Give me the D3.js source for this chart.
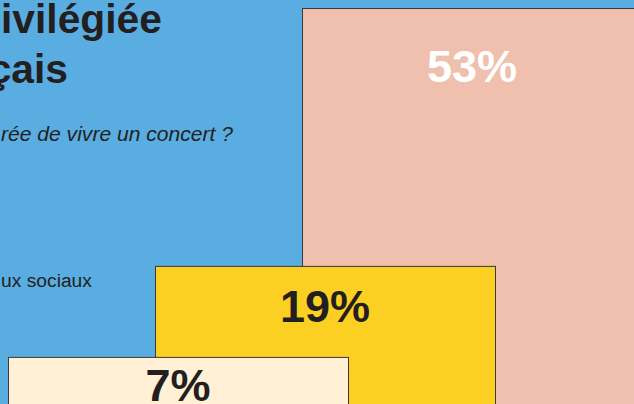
<!DOCTYPE html>
<html>
<head>
<meta charset="utf-8">
<script src="https://cdn.jsdelivr.net/npm/d3@7"></script>
<style>
  html, body { margin: 0; padding: 0; background: #5aade0; overflow: hidden; }
  svg { display: block; font-family: "Liberation Sans", Arial, sans-serif; }
</style>
</head>
<body>
<div id="chart"></div>
<script>
// Data
const categories = ["Réseaux sociaux", "Retransmission", "En salle"];
const values = [7, 19, 53];
const barColors = ["#fff0d6", "#fbd022", "#efc0ae"];
const labelColors = ["#231f20", "#231f20", "#ffffff"];
// visible parts of the texts (the frame cuts the left side)
const titleLines = ["ivilégiée", "çais"];
const subtitle = "rée de vivre un concert ?";
const note = "ux sociaux";

const width = 634, height = 404;
const barWidth = 340;
const labelDy = [44, 56, 74];

const svg = d3.select("#chart").append("svg")
  .attr("width", width)
  .attr("height", height);

svg.append("rect")
  .attr("width", width).attr("height", height)
  .attr("fill", "#5aade0");

// shrink/grow a text so it spans the given width
function fitWidth(sel, target) {
  sel.each(function() {
    const base = +this.getAttribute("font-size");
    const w = this.getComputedTextLength();
    if (w > 0) this.setAttribute("font-size", (base * target / w).toFixed(2));
  });
}

const title1 = svg.append("text")
  .attr("x", 1)
  .attr("y", 33)
  .attr("font-size", 42)
  .attr("font-weight", "bold")
  .attr("fill", "#231f20")
  .text(titleLines[0])
  .call(fitWidth, 161);

svg.append("text")
  .attr("x", 68)
  .attr("y", 83)
  .attr("text-anchor", "end")
  .attr("font-size", title1.attr("font-size"))
  .attr("font-weight", "bold")
  .attr("fill", "#231f20")
  .text(titleLines[1]);

svg.append("text")
  .attr("x", 1)
  .attr("y", 141)
  .attr("font-size", 20)
  .attr("font-style", "italic")
  .attr("fill", "#231f20")
  .text(subtitle)
  .call(fitWidth, 232);

svg.append("text")
  .attr("x", 1)
  .attr("y", 287)
  .attr("font-size", 18.5)
  .attr("fill", "#231f20")
  .text(note)
  .call(fitWidth, 91);

// Scales
const x = d3.scalePoint()
  .domain(categories)
  .range([8, 302]);

const y = d3.scaleLinear()
  .domain([0, 53])
  .range([410, 8]);

const bars = categories.map((c, i) => ({ cat: c, value: values[i], i }));
// draw the tallest first so the smaller bars overlap it
const order = bars.slice().sort((a, b) => b.value - a.value);

const g = svg.append("g");
g.selectAll(".bar").data(order).join("rect")
  .attr("class", "bar")
  .attr("x", d => x(d.cat) + 0.5)
  .attr("y", d => y(d.value) + 0.5)
  .attr("width", barWidth)
  .attr("height", d => y(0) - y(d.value))
  .attr("fill", d => barColors[d.i])
  .attr("stroke", "#3a3a3a")
  .attr("stroke-width", 1);

g.selectAll(".label").data(order).join("text")
  .attr("class", "label")
  .attr("x", d => x(d.cat) + barWidth / 2)
  .attr("y", d => y(d.value) + labelDy[d.i])
  .attr("text-anchor", "middle")
  .attr("font-size", 45)
  .attr("font-weight", "bold")
  .attr("fill", d => labelColors[d.i])
  .text(d => d.value + "%");
</script>
</body>
</html>
